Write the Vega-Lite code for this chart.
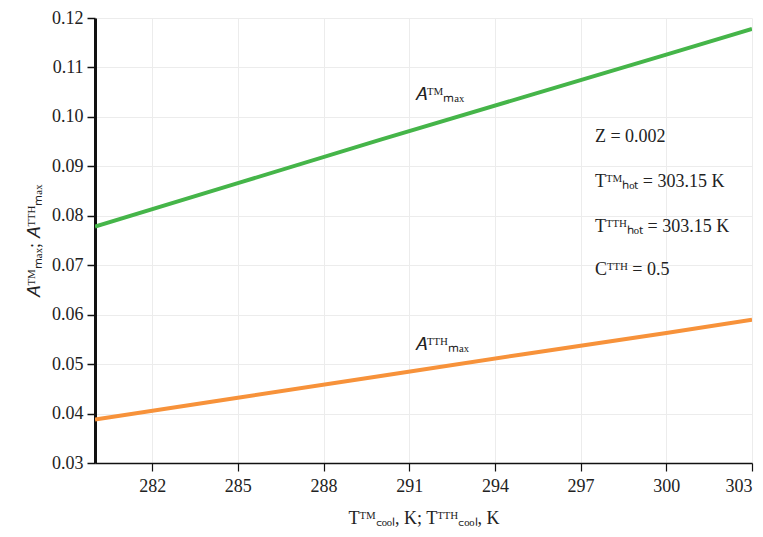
{
  "$schema": "https://vega.github.io/schema/vega-lite/v6.json",
  "autosize": "none",
  "width": 657,
  "height": 445,
  "padding": {"left": 95, "top": 18, "right": 11, "bottom": 74},
  "background": "white",
  "config": {
    "view": {"stroke": null},
    "font": "Times New Roman, serif",
    "axis": {
      "labelFont": "Times New Roman, serif",
      "titleFont": "Times New Roman, serif",
      "labelFontSize": 18,
      "titleFontSize": 18,
      "labelColor": "#222",
      "titleColor": "#222",
      "domainColor": "#111",
      "tickColor": "#111",
      "gridColor": "#ececec",
      "gridWidth": 1,
      "titleFontWeight": "normal"
    }
  },
  "datasets": {
    "lines": [
      {"series": "TM", "T": 280, "A": 0.0778},
      {"series": "TM", "T": 285, "A": 0.0866},
      {"series": "TM", "T": 290, "A": 0.0954},
      {"series": "TM", "T": 295, "A": 0.1040},
      {"series": "TM", "T": 300, "A": 0.1126},
      {"series": "TM", "T": 303, "A": 0.1178},
      {"series": "TTH", "T": 280, "A": 0.0388},
      {"series": "TTH", "T": 285, "A": 0.0432},
      {"series": "TTH", "T": 290, "A": 0.0476},
      {"series": "TTH", "T": 295, "A": 0.0520},
      {"series": "TTH", "T": 300, "A": 0.0563},
      {"series": "TTH", "T": 303, "A": 0.0590}
    ],
    "labels": [
      {"T": 291.2, "A": 0.1044, "text": "𝐴ᵀᴹₘₐₓ"},
      {"T": 291.2, "A": 0.0539, "text": "𝐴ᵀᵀᴴₘₐₓ"},
      {"T": 297.5, "A": 0.0959, "text": "Z = 0.002"},
      {"T": 297.5, "A": 0.0868, "text": "Tᵀᴹₕₒₜ = 303.15 K"},
      {"T": 297.5, "A": 0.0777, "text": "Tᵀᵀᴴₕₒₜ = 303.15 K"},
      {"T": 297.5, "A": 0.0690, "text": "Cᵀᵀᴴ = 0.5"}
    ]
  },
  "layer": [
    {
      "data": {"name": "lines"},
      "mark": {"type": "line", "strokeWidth": 4, "clip": true},
      "encoding": {
        "x": {
          "field": "T", "type": "quantitative",
          "scale": {"domain": [280, 303], "nice": false, "zero": false},
          "axis": {
            "values": [282, 285, 288, 291, 294, 297, 300, 303],
            "title": "Tᵀᴹ꜀ₒₒₗ, K;  Tᵀᵀᴴ꜀ₒₒₗ, K",
            "titlePadding": 14,
            "domainWidth": 1.5,
            "tickSize": 8,
            "tickWidth": 1.2,
            "labelPadding": 6,
            "grid": true
          }
        },
        "y": {
          "field": "A", "type": "quantitative",
          "scale": {"domain": [0.03, 0.12], "nice": false, "zero": false},
          "axis": {
            "values": [0.03, 0.04, 0.05, 0.06, 0.07, 0.08, 0.09, 0.10, 0.11, 0.12],
            "format": ".2f",
            "title": "𝐴ᵀᴹₘₐₓ;  𝐴ᵀᵀᴴₘₐₓ",
            "titlePadding": 8,
            "domainWidth": 3,
            "tickSize": 8,
            "tickWidth": 1.5,
            "labelPadding": 4,
            "grid": true
          }
        },
        "color": {
          "field": "series", "type": "nominal",
          "scale": {"domain": ["TM", "TTH"], "range": ["#45b549", "#f7923a"]},
          "legend": null
        }
      }
    },
    {
      "data": {"name": "labels"},
      "mark": {"type": "text", "align": "left", "baseline": "middle", "fontSize": 18, "font": "Times New Roman, serif", "color": "#222"},
      "encoding": {
        "x": {"field": "T", "type": "quantitative"},
        "y": {"field": "A", "type": "quantitative"},
        "text": {"field": "text"}
      }
    }
  ]
}
